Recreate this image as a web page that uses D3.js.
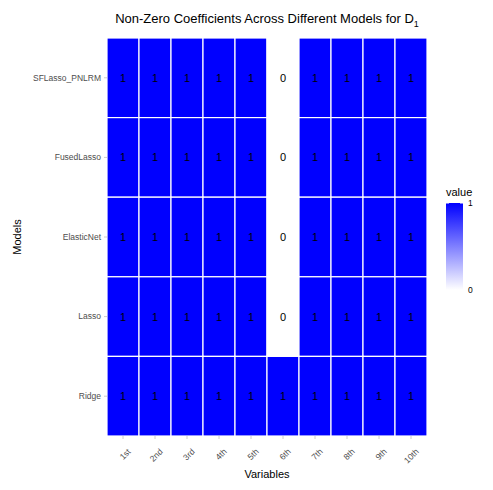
<!DOCTYPE html>
<html>
<head>
<meta charset="utf-8">
<script src="https://cdnjs.cloudflare.com/ajax/libs/d3/7.8.5/d3.min.js"></script>
<style>body{margin:0;background:#fff}text{font-family:"Liberation Sans",Arial,sans-serif}</style>
</head>
<body>
<svg id="chart" width="493" height="490"></svg>
<script>
const variables = ['1st','2nd','3rd','4th','5th','6th','7th','8th','9th','10th'];
const models = ['SFLasso_PNLRM','FusedLasso','ElasticNet','Lasso','Ridge'];
// one row per model, one value per variable
const values = [
  [1,1,1,1,1,0,1,1,1,1],
  [1,1,1,1,1,0,1,1,1,1],
  [1,1,1,1,1,0,1,1,1,1],
  [1,1,1,1,1,0,1,1,1,1],
  [1,1,1,1,1,1,1,1,1,1]
];

const svg = d3.select('#chart');
const m = {left: 107, right: 427, top: 38, bottom: 436};

const x = d3.scaleBand().domain(variables).range([m.left, m.right]);
const y = d3.scaleBand().domain(models).range([m.top, m.bottom]);
const color = d3.scaleLinear().domain([0, 1]).range(['#ffffff', '#0000ff']);

const cells = [];
models.forEach((mod, i) => variables.forEach((v, j) => cells.push({mod, v, val: values[i][j]})));

svg.append('g').selectAll('rect').data(cells).enter().append('rect')
  .attr('x', d => x(d.v)).attr('y', d => y(d.mod))
  .attr('width', x.bandwidth()).attr('height', y.bandwidth())
  .attr('fill', d => color(d.val))
  .attr('stroke', '#fff').attr('stroke-width', 1.2);

svg.append('g').selectAll('text').data(cells).enter().append('text')
  .attr('x', d => x(d.v) + x.bandwidth() / 2)
  .attr('y', d => y(d.mod) + y.bandwidth() / 2 + 4)
  .attr('text-anchor', 'middle').attr('font-size', 11).attr('fill', '#000')
  .text(d => d.val);

// axes
const xAxis = svg.append('g').attr('transform', `translate(0,${m.bottom})`)
  .call(d3.axisBottom(x).tickSize(3));
xAxis.select('.domain').remove();
xAxis.selectAll('line').attr('stroke', '#ccc');
xAxis.selectAll('text').attr('fill', '#4d4d4d').attr('font-size', 8.5)
  .attr('text-anchor', 'end').attr('dy', 0)
  .attr('transform', 'translate(4,12) rotate(-45)');

const yAxis = svg.append('g').attr('transform', `translate(${m.left},0)`)
  .call(d3.axisLeft(y).tickSize(3));
yAxis.select('.domain').remove();
yAxis.selectAll('line').attr('stroke', '#ccc');
yAxis.selectAll('text').attr('fill', '#4d4d4d').attr('font-size', 8.5);

svg.append('text').attr('x', (m.left + m.right) / 2).attr('y', 478)
  .attr('text-anchor', 'middle').attr('font-size', 11).text('Variables');
svg.append('text').attr('transform', 'translate(21,237) rotate(-90)')
  .attr('text-anchor', 'middle').attr('font-size', 11).text('Models');

const title = svg.append('text').attr('x', 267).attr('y', 23)
  .attr('text-anchor', 'middle').attr('font-size', 13);
title.append('tspan').text('Non-Zero Coefficients Across Different Models for D');
title.append('tspan').attr('font-size', 9).attr('dy', 4).text('1');

// legend
const defs = svg.append('defs');
const grad = defs.append('linearGradient').attr('id', 'g').attr('x1', 0).attr('x2', 0).attr('y1', 1).attr('y2', 0);
grad.append('stop').attr('offset', '0%').attr('stop-color', color(0));
grad.append('stop').attr('offset', '100%').attr('stop-color', color(1));
const ly = d3.scaleLinear().domain([0, 1]).range([290, 203]);
svg.append('text').attr('x', 446).attr('y', 196).attr('font-size', 11).text('value');
svg.append('rect').attr('x', 446).attr('y', ly(1)).attr('width', 17).attr('height', ly(0) - ly(1))
  .attr('fill', 'url(#g)');
[0, 1].forEach(t => {
  svg.append('line').attr('x1', 446).attr('x2', 449).attr('y1', ly(t)).attr('y2', ly(t)).attr('stroke', '#fff');
  svg.append('line').attr('x1', 460).attr('x2', 463).attr('y1', ly(t)).attr('y2', ly(t)).attr('stroke', '#fff');
  svg.append('text').attr('x', 468).attr('y', ly(t) + 3).attr('font-size', 8.5).attr('fill', '#000').text(t);
});
</script>
</body>
</html>
